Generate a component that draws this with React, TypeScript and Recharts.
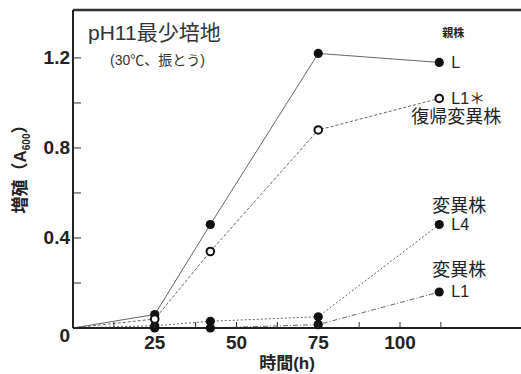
import { LineChart, Line, XAxis, YAxis, LabelList, Customized } from "recharts";

// growth in pH11 minimal medium, A600 vs hours
const hours = [0, 25, 42, 75, 112];
const parentL = [0, 0.06, 0.46, 1.22, 1.18];
const revertantL1 = [0, 0.04, 0.34, 0.88, 1.02];
const mutantL4 = [0, 0.01, 0.03, 0.05, 0.46];
const mutantL1 = [0, 0.0, 0.0, 0.015, 0.16];

const xTicks = [12.5, 25, 37.5, 50, 62.5, 75, 87.5, 100, 112.5];
const xLabels = [25, 50, 75, 100];
const yTicks = [0, 0.2, 0.4, 0.6, 0.8, 1.0, 1.2];
const yLabels = [0, 0.4, 0.8, 1.2];

const data = hours.map((h, i) => ({
  h,
  L: parentL[i],
  L1s: revertantL1[i],
  L4: mutantL4[i],
  L1: mutantL1[i],
}));

const LAST = hours.length - 1;
const NUM_FONT = "'Liberation Sans', Arial, sans-serif";
const JP_FONT = "'Liberation Sans', 'Noto Sans CJK JP', sans-serif";

const XTick = (props: any) => {
  const { x, y, payload } = props;
  const v = payload.value;
  return (
    <g>
      <line x1={x} x2={x} y1={y} y2={y - 6} stroke="#333" strokeWidth={1} />
      {xLabels.includes(v) && (
        <text x={x} y={y + 21} textAnchor="middle" fontFamily={NUM_FONT} fontSize={19} fontWeight="bold" fill="#222">
          {v}
        </text>
      )}
    </g>
  );
};

const YTick = (props: any) => {
  const { x, y, payload } = props;
  const v = payload.value;
  const isZero = v === 0;
  return (
    <g>
      {!isZero && <line x1={x} x2={x + 8} y1={y} y2={y} stroke="#333" strokeWidth={1} />}
      {yLabels.includes(v) && (
        <text x={x - 3} y={isZero ? y + 14 : y + 6.5} textAnchor="end" fontFamily={NUM_FONT} fontSize={19} fontWeight="bold" fill="#222">
          {isZero ? "0" : v.toFixed(1)}
        </text>
      )}
    </g>
  );
};

const filledDot = (props: any) => {
  const { cx, cy, index, key } = props;
  if (index === 0) return <g key={key} />;
  return <circle key={key} cx={cx} cy={cy} r={4.6} fill="#111" stroke="none" />;
};

const openDot = (props: any) => {
  const { cx, cy, index, key } = props;
  if (index === 0) return <g key={key} />;
  return <circle key={key} cx={cx} cy={cy} r={3.8} fill="#fff" stroke="#111" strokeWidth={2} />;
};

const endLabel = (name: string, note: string, noteDx: number, noteDy: number, noteSize: number, noteBold = false) => (props: any) => {
  const { x, y, index } = props;
  if (index !== LAST) return null;
  return (
    <g>
      <text x={x + 12} y={y + 5.5} fontFamily={JP_FONT} fontSize={16} fill="#222">
        {name}
      </text>
      <text
        x={x + noteDx}
        y={y + noteDy}
        textAnchor="middle"
        fontFamily={JP_FONT}
        fontSize={noteSize}
        fontWeight={noteBold ? "bold" : "normal"}
        fill="#222"
      >
        {note}
      </text>
    </g>
  );
};

const Titles = () => (
  <g>
    <text x={88} y={40} fontFamily={JP_FONT} fontSize={21} fill="#333">
      pH11最少培地
    </text>
    <text x={110} y={65} fontFamily={JP_FONT} fontSize={14} fill="#333">
      (30℃、振とう)
    </text>
    <text x={287} y={369} textAnchor="middle" fontFamily={JP_FONT} fontSize={17} fontWeight="bold" fill="#222">
      時間(h)
    </text>
    <text
      transform="translate(26,165) rotate(-90)"
      textAnchor="middle"
      fontFamily={JP_FONT}
      fontSize={17}
      fontWeight="bold"
      fill="#222"
    >
      増殖（A
      <tspan fontSize={10} dy={4}>600</tspan>
      <tspan dy={-4}>）</tspan>
    </text>
  </g>
);

export default function App() {
  return (
    <div style={{ position: "absolute", left: 0, top: 0, width: 521, height: 374, background: "#fff" }}>
      <LineChart width={521} height={374} data={data} margin={{ top: 0, right: 0, bottom: 0, left: 0 }}>
        <XAxis
          dataKey="h"
          type="number"
          domain={[0, 137]}
          ticks={xTicks}
          height={46}
          tickSize={0}
          tickMargin={0}
          tickLine={false}
          axisLine={{ stroke: "#222", strokeWidth: 2 }}
          tick={<XTick />}
          interval={0}
        />
        <XAxis
          xAxisId="top"
          orientation="top"
          type="number"
          domain={[0, 137]}
          height={10}
          tick={false}
          tickLine={false}
          axisLine={{ stroke: "#333", strokeWidth: 2.5 }}
        />
        <YAxis
          type="number"
          domain={[0, 1.413]}
          ticks={yTicks}
          width={73}
          tickSize={0}
          tickMargin={0}
          tickLine={false}
          axisLine={{ stroke: "#222", strokeWidth: 2 }}
          tick={<YTick />}
          interval={0}
        />
        <Line dataKey="L1" stroke="#666" strokeWidth={1} strokeDasharray="5 2 1 2" dot={filledDot} isAnimationActive={false}>
          <LabelList dataKey="L1" content={endLabel("L1", "変異株", 20, -16, 18)} />
        </Line>
        <Line dataKey="L4" stroke="#666" strokeWidth={1} strokeDasharray="2 2" dot={filledDot} isAnimationActive={false}>
          <LabelList dataKey="L4" content={endLabel("L4", "変異株", 20, -12, 18)} />
        </Line>
        <Line dataKey="L" stroke="#666" strokeWidth={1} dot={filledDot} isAnimationActive={false}>
          <LabelList dataKey="L" content={endLabel("L", "親株", 14, -25, 11, true)} />
        </Line>
        <Line dataKey="L1s" stroke="#666" strokeWidth={1} strokeDasharray="3 2" dot={openDot} isAnimationActive={false}>
          <LabelList dataKey="L1s" content={endLabel("L1＊", "復帰変異株", 17, 25, 18)} />
        </Line>
        <Customized component={Titles} />
      </LineChart>
    </div>
  );
}
